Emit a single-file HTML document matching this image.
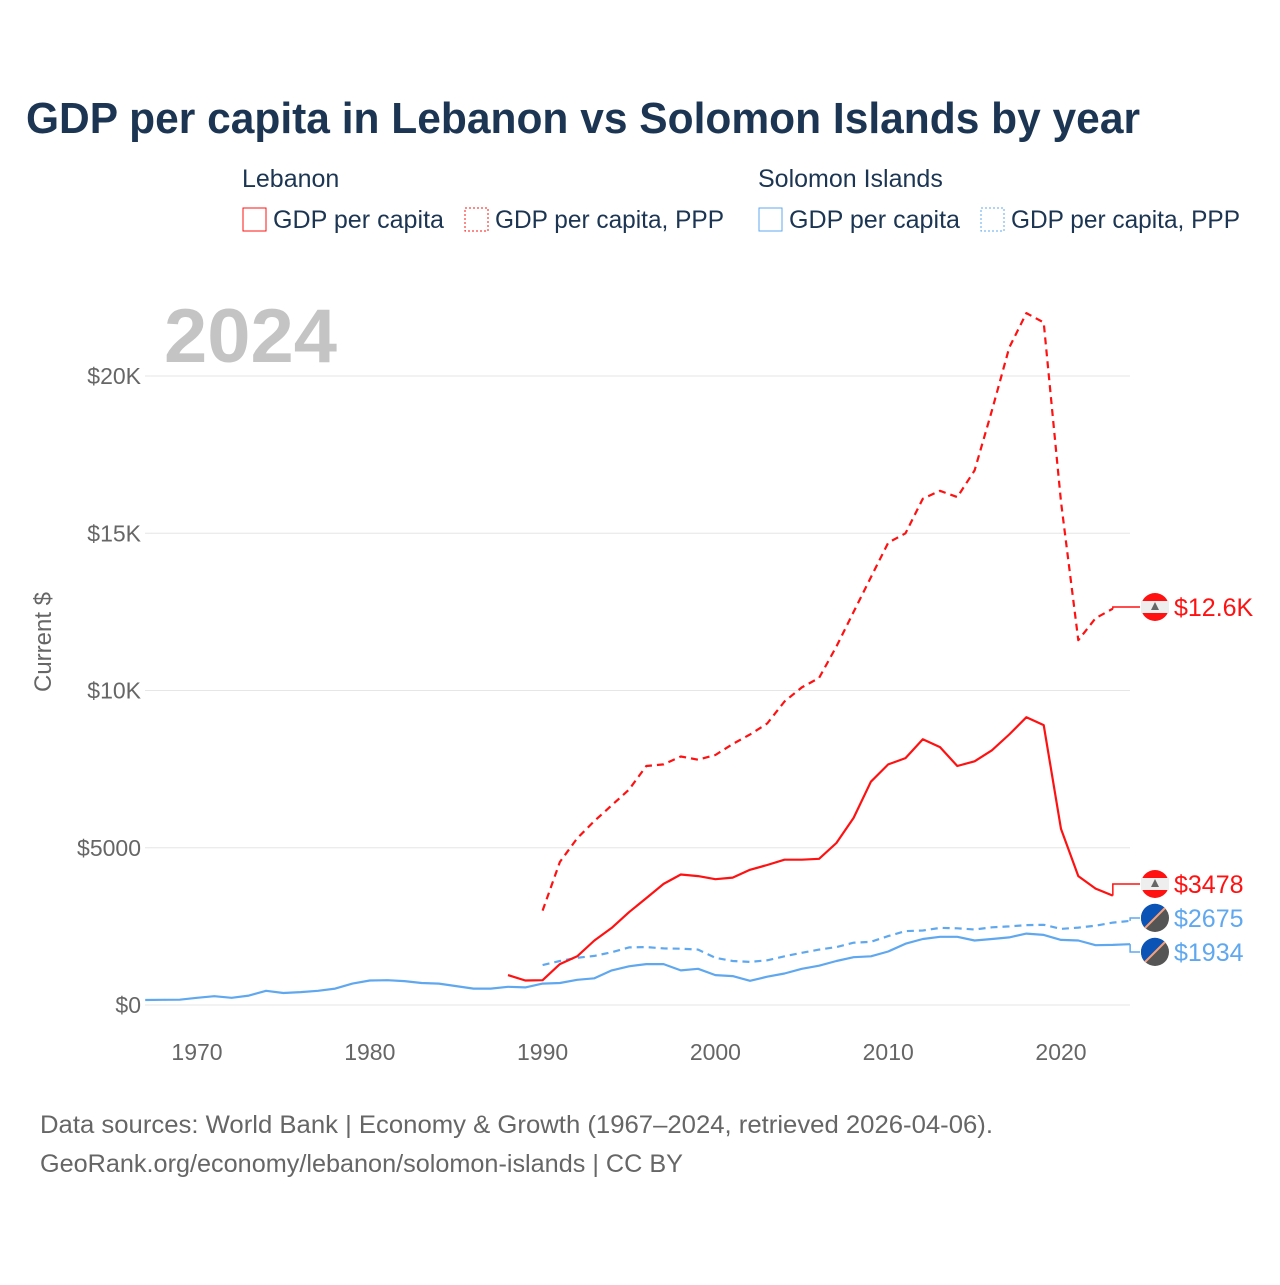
<!DOCTYPE html>
<html><head><meta charset="utf-8"><style>
body{margin:0;background:#fff;width:1280px;height:1280px;overflow:hidden;font-family:"Liberation Sans",sans-serif}
</style></head><body>
<svg id="chart" width="1280" height="1280" xmlns="http://www.w3.org/2000/svg" font-family="Liberation Sans, sans-serif">
<text x="26" y="133" font-size="44" font-weight="bold" fill="#1b3553" textLength="1114" lengthAdjust="spacingAndGlyphs">GDP per capita in Lebanon vs Solomon Islands by year</text>
<g font-size="25" fill="#1b3553">
<text x="242" y="187">Lebanon</text>
<text x="758" y="187">Solomon Islands</text>
<g><rect x="243" y="208" width="23" height="23" fill="none" stroke="#f11"/><text x="273" y="228" textLength="171" lengthAdjust="spacingAndGlyphs">GDP per capita</text></g>
<g><rect x="465" y="208" width="23" height="23" fill="none" stroke="#f11" stroke-dasharray="2,2"/><text x="495" y="228" textLength="229" lengthAdjust="spacingAndGlyphs">GDP per capita, PPP</text></g>
<g><rect x="759" y="208" width="23" height="23" fill="none" stroke="#5fa8ef"/><text x="789" y="228" textLength="171" lengthAdjust="spacingAndGlyphs">GDP per capita</text></g>
<g><rect x="981" y="208" width="23" height="23" fill="none" stroke="#5fa8ef" stroke-dasharray="2,2"/><text x="1011" y="228" textLength="229" lengthAdjust="spacingAndGlyphs">GDP per capita, PPP</text></g>
</g>
<text x="164" y="362" font-size="76" font-weight="bold" fill="#c4c4c4" textLength="173" lengthAdjust="spacingAndGlyphs">2024</text>
<text transform="translate(51,642) rotate(-90)" text-anchor="middle" font-size="24" fill="#666">Current $</text>
<g id="grid"></g><g id="series"></g><g id="labels"></g>
<text x="40" y="1133" font-size="25" fill="#666" textLength="953" lengthAdjust="spacingAndGlyphs">Data sources: World Bank | Economy &amp; Growth (1967–2024, retrieved 2026-04-06).</text>
<text x="40" y="1172" font-size="25" fill="#666" textLength="643" lengthAdjust="spacingAndGlyphs">GeoRank.org/economy/lebanon/solomon-islands | CC BY</text>
</svg>
<script>
const yTicks=[0,5000,10000,15000,20000];
const yTickLabels=["$0","$5000","$10K","$15K","$20K"];
const xTicks=[1970,1980,1990,2000,2010,2020];
const lebGdpStart=1988;
const lebGdp=[950,780,790,1300,1550,2050,2450,2950,3400,3850,4150,4100,4000,4050,4300,4450,4620,4620,4650,5150,5950,7100,7650,7850,8450,8200,7600,7750,8100,8600,9150,8900,5600,4100,3700,3478];
const lebPppStart=1990;
const lebPpp=[3000,4550,5300,5850,6350,6850,7600,7650,7900,7800,7950,8300,8600,8950,9650,10100,10400,11400,12500,13600,14700,15000,16100,16350,16150,17000,18900,20900,22000,21700,16000,11600,12300,12600];
const solGdpStart=1967;
const solGdp=[160,165,170,230,280,230,300,450,380,410,450,520,680,780,790,760,700,680,600,520,520,580,560,680,700,800,850,1100,1230,1300,1300,1100,1150,950,920,770,900,1000,1150,1250,1400,1520,1550,1700,1950,2100,2170,2170,2050,2100,2150,2270,2230,2070,2050,1900,1910,1934];
const solPppStart=1990;
const solPpp=[1270,1400,1500,1560,1680,1830,1840,1800,1790,1760,1500,1400,1370,1420,1550,1660,1760,1840,1980,2010,2190,2350,2370,2450,2440,2400,2470,2500,2540,2550,2420,2460,2520,2620,2675];
const endLabels=["$12.6K","$3478","$2675","$1934"];
const NS="http://www.w3.org/2000/svg";
const X=yr=>197+(yr-1970)*17.28;
const Y=v=>1005-v/20000*629;
function el(t,a,p){const e=document.createElementNS(NS,t);for(const k in a)e.setAttribute(k,a[k]);p.appendChild(e);return e;}
const grid=document.getElementById('grid');
yTicks.forEach((v,i)=>{
 const l=el('line',{x1:145,x2:1130,y1:Y(v),y2:Y(v),stroke:'#e6e6e6','stroke-width':1},grid);
 
 
 const t=el('text',{x:141,y:Y(v)+8,'text-anchor':'end','font-size':23,fill:'#666'},grid);
 t.textContent=yTickLabels[i];
 
 
});
xTicks.forEach(yr=>{
 const t=el('text',{x:X(yr),y:1060,'text-anchor':'middle','font-size':23,fill:'#666'},grid);
 t.textContent=yr;
 
 
});
const ser=document.getElementById('series');
function line(start,vals,color,dash,name){
 const d=vals.map((v,i)=>(i?'L':'M')+X(start+i).toFixed(1)+','+Y(v).toFixed(1)).join('');
 const p=el('path',{d:d,fill:'none',stroke:color,'stroke-width':2.2,'stroke-dasharray':dash||'none','stroke-linejoin':'round'},ser);
 
 
}
line(solPppStart,solPpp,'#5fa8ef','7,5','line-solomon-ppp');
line(solGdpStart,solGdp,'#5fa8ef','','line-solomon-gdp');
line(lebPppStart,lebPpp,'#f11','7,5','line-lebanon-ppp');
line(lebGdpStart,lebGdp,'#f11','','line-lebanon-gdp');
const lab=document.getElementById('labels');
const ends=[
 {v:lebPpp[lebPpp.length-1],yr:lebPppStart+lebPpp.length-1,ly:607,c:'#f11',leb:true,n:'end-label-lebanon-ppp'},
 {v:lebGdp[lebGdp.length-1],yr:lebGdpStart+lebGdp.length-1,ly:884,c:'#f11',leb:true,n:'end-label-lebanon-gdp'},
 {v:solPpp[solPpp.length-1],yr:solPppStart+solPpp.length-1,ly:918,c:'#5fa8ef',leb:false,n:'end-label-solomon-ppp'},
 {v:solGdp[solGdp.length-1],yr:solGdpStart+solGdp.length-1,ly:952,c:'#5fa8ef',leb:false,n:'end-label-solomon-gdp'}];
ends.forEach((e,i)=>{
 const g=el('g',{},lab);
 
 
 const y0=Y(e.v),x0=X(e.yr);
 const xm=Math.max(x0,1112);
 el('path',{d:`M${x0},${y0}L${xm},${y0}L${xm},${e.ly}L1140,${e.ly}`,fill:'none',stroke:e.c,'stroke-width':1.5},g);
 if(e.leb){
  el('circle',{cx:1155,cy:e.ly,r:14,fill:'#f11'},g);
  el('rect',{x:1141,y:e.ly-6,width:28,height:12,fill:'#eee'},g);
  el('path',{d:`M1155,${e.ly-5}L1159,${e.ly+3}L1151,${e.ly+3}Z`,fill:'#666'},g);
 } else {
  el('circle',{cx:1155,cy:e.ly,r:14,fill:'#555'},g);
  el('path',{d:`M1141,${e.ly}A14,14 0 0 1 1165,${e.ly-10}L1145,${e.ly+10}A14,14 0 0 1 1141,${e.ly}Z`,fill:'#0b53b5'},g);
  el('line',{x1:1145,y1:e.ly+10,x2:1165,y2:e.ly-10,stroke:'#f4a07a','stroke-width':2},g);
 }
 const t=el('text',{x:1174,y:e.ly+9,'font-size':25,fill:e.c},g);
 t.textContent=endLabels[i];
});
</script>
</body></html>
